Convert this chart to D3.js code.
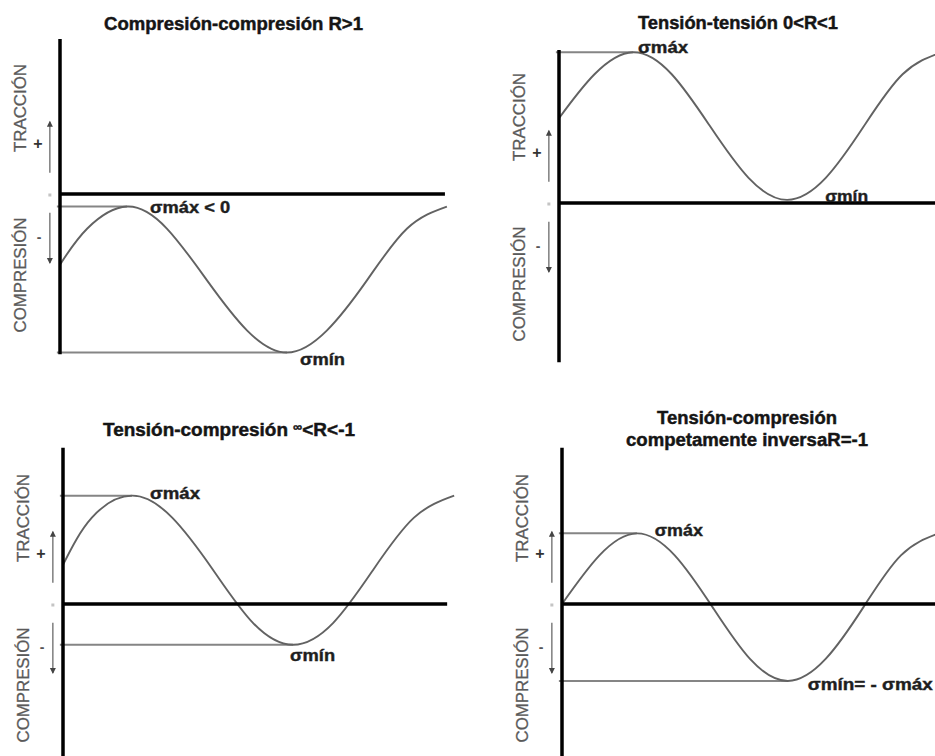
<!DOCTYPE html>
<html>
<head>
<meta charset="utf-8">
<script src="https://cdn.jsdelivr.net/npm/d3@7"></script>
<style>
  html, body { margin: 0; padding: 0; background: #fff; }
  svg { display: block; }
  text { font-family: "Liberation Sans", Arial, sans-serif; }
</style>
</head>
<body>
<script>
// ---------------- DATA ----------------
const panelTitles = [
  ["Compresión-compresión R>1"],
  ["Tensión-tensión 0<R<1"],
  ["Tensión-compresión ", "∞", "<R<-1"],
  ["Tensión-compresión", "competamente inversaR=-1"]
];
const axisUpLabel = "TRACCIÓN";
const axisDownLabel = "COMPRESIÓN";

// time (arbitrary units) and stress (arbitrary units) samples of each wave
const time1   = [0, 7.0, 17.2, 27.4, 37.7, 48.0, 58.2, 68.4, 78.7, 89.0, 99.2];
const stress1 = [-4.5, -2.2, -0.8, -2.2, -5.5, -8.7, -10.1, -8.7, -5.5, -2.2, -0.8];

const time2   = [0, 9.1, 19.0, 28.9, 38.7, 48.6, 58.5, 68.4, 78.2, 88.1, 98.0];
const stress2 = [5.4, 8.2, 9.6, 8.2, 4.9, 1.6, 0.2, 1.6, 4.9, 8.2, 9.6];

const time3   = [0, 7.4, 17.7, 28.0, 38.4, 48.7, 59.0, 69.3, 79.6, 90.0, 100.3];
const stress3 = [2.5, 5.5, 6.9, 5.5, 2.2, -1.2, -2.6, -1.2, 2.2, 5.5, 6.9];

const time4   = [0, 9.6, 19.2, 28.9, 38.6, 48.2, 57.9, 67.6, 77.3, 86.9, 96.6];
const stress4 = [0, 3.1, 4.5, 3.1, -0.2, -3.5, -4.9, -3.5, -0.2, 3.1, 4.5];

const times = [time1, time2, time3, time4];
const stresses = [stress1, stress2, stress3, stress4];

// sigma max / min and where they occur
const sigmaMax   = [-0.8, 9.6, 6.9, 4.5];
const sigmaMin   = [-10.1, 0.2, -2.6, -4.9];
const tAtMax     = [17.2, 19.0, 17.7, 19.2];
const tAtMin     = [58.2, 58.5, 59.0, 57.9];
const maxLabels  = ["σmáx < 0", "σmáx", "σmáx", "σmáx"];
const minLabels  = ["σmín", "σmín", "σmín", "σmín= - σmáx"];
const drawMinLine = [true, false, true, true];

// ---------------- LAYOUT ----------------
const W = 935, H = 756;
const origins = [[60, 194], [559, 203], [63, 604], [562, 604]];
const xEnd = [98.7, 100, 98.5, 100];          // horizontal axis end (time units)
const yTop = [9.87, 9.75, 9.95, 9.95];         // vertical axis top (stress units)
const yBot = [-10.2, -10.15, -10.8, -10.8];    // vertical axis bottom
const titleLayout = [
  {x: 233.5, y: [30], w: [259]},
  {x: 738, y: [29], w: [200]},
  {x: 229, y: [436], w: [252]},
  {x: 747, y: [424, 446], w: [180, 242]}
];
// label offsets (px) relative to the extreme points
const maxLabelPos = [{dx: 23, dy: 6, w: 80}, {dx: 5, dy: 1, w: 50}, {dx: 18, dy: 3, w: 50}, {dx: 18, dy: 3, w: 48}];
const minLabelPos = [{dx: 13, dy: 12, w: 45}, {dx: 38, dy: 2, w: 43}, {dx: -3, dy: 16, w: 45}, {dx: 20, dy: 9, w: 125}];

const svg = d3.select("body").append("svg")
  .attr("width", W).attr("height", H)
  .attr("viewBox", `0 0 ${W} ${H}`);

svg.append("rect").attr("width", W).attr("height", H).attr("fill", "#fff");

const defs = svg.append("defs");
defs.append("marker")
  .attr("id", "arr")
  .attr("markerUnits", "userSpaceOnUse")
  .attr("markerWidth", 7).attr("markerHeight", 7)
  .attr("refX", 5).attr("refY", 3)
  .attr("orient", "auto")
  .append("path").attr("d", "M0,0 L6,3 L0,6 Z").attr("fill", "#444");

const curveColor = "#626262";
const refColor = "#858585";

origins.forEach(([ox, oy], i) => {
  const x = d3.scaleLinear().domain([0, 100]).range([ox, ox + 390]);
  const y = d3.scaleLinear().domain([-10, 10]).range([oy + 157, oy - 157]);
  const g = svg.append("g");

  // title
  const tl = titleLayout[i];
  const titleStyle = sel => sel
    .attr("text-anchor", "middle")
    .attr("font-size", 18).attr("font-weight", "bold").attr("fill", "#151515")
    .attr("stroke", "#151515").attr("stroke-width", 0.45)
    .attr("lengthAdjust", "spacingAndGlyphs");
  if (i === 2) {
    const t = g.append("text")
      .attr("x", tl.x).attr("y", tl.y[0])
      .call(titleStyle)
      .attr("textLength", tl.w[0]);
    t.append("tspan").text(panelTitles[i][0]);
    t.append("tspan").text(panelTitles[i][1]).attr("font-size", 12).attr("dy", -5);
    t.append("tspan").text(panelTitles[i][2]).attr("dy", 5);
  } else {
    panelTitles[i].forEach((line, k) => {
      g.append("text")
        .attr("x", tl.x).attr("y", tl.y[k])
        .call(titleStyle)
        .attr("textLength", tl.w[k])
        .text(line);
    });
  }

  // reference lines sigma max / min
  g.append("line")
    .attr("x1", x(-0.8)).attr("x2", x(tAtMax[i]))
    .attr("y1", y(sigmaMax[i])).attr("y2", y(sigmaMax[i]))
    .attr("stroke", refColor).attr("stroke-width", 2);
  if (drawMinLine[i]) {
    g.append("line")
      .attr("x1", x(-0.8)).attr("x2", x(tAtMin[i]))
      .attr("y1", y(sigmaMin[i])).attr("y2", y(sigmaMin[i]))
      .attr("stroke", refColor).attr("stroke-width", 2);
  }

  // wave
  const pts = times[i].map((t, k) => [t, stresses[i][k]]);
  g.append("path")
    .datum(pts)
    .attr("d", d3.line().x(d => x(d[0])).y(d => y(d[1])).curve(d3.curveNatural))
    .attr("fill", "none").attr("stroke", curveColor).attr("stroke-width", 1.9);

  // axes
  g.append("line")
    .attr("x1", x(0)).attr("x2", x(xEnd[i]))
    .attr("y1", y(0)).attr("y2", y(0))
    .attr("stroke", "#000").attr("stroke-width", 3.5);
  g.append("line")
    .attr("x1", x(0)).attr("x2", x(0))
    .attr("y1", y(yTop[i])).attr("y2", y(yBot[i]))
    .attr("stroke", "#000").attr("stroke-width", 3.5);

  // sigma labels
  const labStyle = sel => sel
    .attr("font-size", 16).attr("font-weight", "bold").attr("fill", "#1e1e1e")
    .attr("stroke", "#1e1e1e").attr("stroke-width", 0.4)
    .attr("lengthAdjust", "spacingAndGlyphs");
  const mp = maxLabelPos[i];
  g.append("text")
    .attr("x", x(tAtMax[i]) + mp.dx).attr("y", y(sigmaMax[i]) + mp.dy)
    .call(labStyle)
    .attr("textLength", mp.w)
    .text(maxLabels[i]);
  const np = minLabelPos[i];
  g.append("text")
    .attr("x", x(tAtMin[i]) + np.dx).attr("y", y(sigmaMin[i]) + np.dy)
    .call(labStyle)
    .attr("textLength", np.w)
    .text(minLabels[i]);

  // side labels
  const lx = ox - 40;
  g.append("text")
    .attr("transform", `translate(${lx},${oy - 86}) rotate(-90)`)
    .attr("text-anchor", "middle").attr("dominant-baseline", "central")
    .attr("font-size", 17).attr("fill", "#5a5a5a")
    .attr("stroke", "#5a5a5a").attr("stroke-width", 0.3)
    .attr("textLength", 88).attr("lengthAdjust", "spacingAndGlyphs")
    .text(axisUpLabel);
  g.append("text")
    .attr("transform", `translate(${lx},${oy + 81}) rotate(-90)`)
    .attr("text-anchor", "middle").attr("dominant-baseline", "central")
    .attr("font-size", 17).attr("fill", "#5a5a5a")
    .attr("stroke", "#5a5a5a").attr("stroke-width", 0.3)
    .attr("textLength", 115).attr("lengthAdjust", "spacingAndGlyphs")
    .text(axisDownLabel);
  g.append("text")
    .attr("x", ox - 22).attr("y", oy - 51)
    .attr("text-anchor", "middle").attr("dominant-baseline", "central")
    .attr("font-size", 16).attr("font-weight", "bold").attr("fill", "#333")
    .text("+");
  g.append("text")
    .attr("x", ox - 21).attr("y", oy + 43)
    .attr("text-anchor", "middle").attr("dominant-baseline", "central")
    .attr("font-size", 14).attr("font-weight", "bold").attr("fill", "#555")
    .text("-");

  // arrows
  const ax = x(-2.6);
  g.append("line")
    .attr("x1", ax).attr("x2", ax)
    .attr("y1", y(1.35)).attr("y2", y(4.6))
    .attr("stroke", "#6a6a6a").attr("stroke-width", 1.3)
    .attr("marker-end", "url(#arr)");
  g.append("line")
    .attr("x1", ax).attr("x2", ax)
    .attr("y1", y(-1.2)).attr("y2", y(-4.4))
    .attr("stroke", "#6a6a6a").attr("stroke-width", 1.3)
    .attr("marker-end", "url(#arr)");
  g.append("rect")
    .attr("x", ax - 1.5).attr("y", y(0) - 0.5).attr("width", 3).attr("height", 3)
    .attr("fill", "#c4c4c4");
});
</script>
</body>
</html>
